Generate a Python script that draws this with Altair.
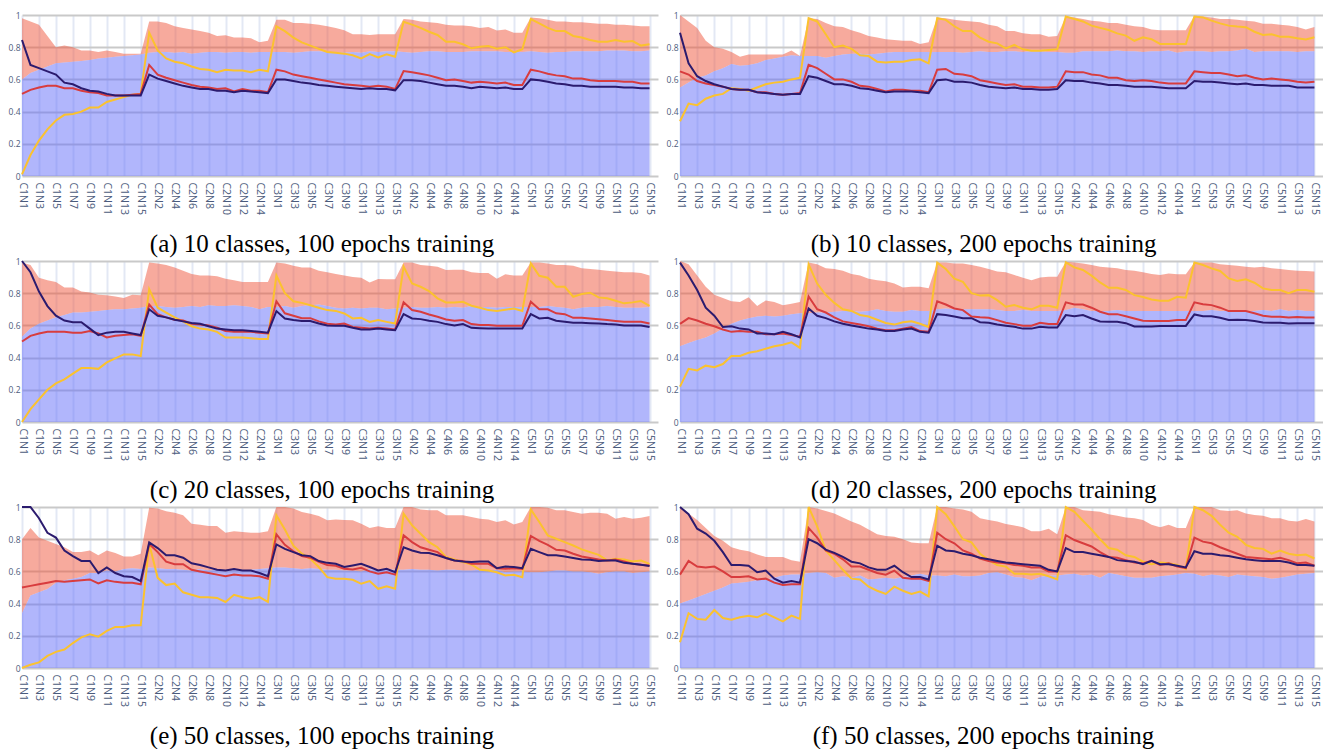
import altair as alt
import pandas as pd

# ---------------- categories ----------------
categories = [f"C{c}N{n}" for c in range(1, 6) for n in range(1, 16)]
tick_labels = categories[::2]
y_ticks = [0, 0.2, 0.4, 0.6, 0.8, 1]

# ---------------- (a) 10 classes, 100 epochs ----------------
a_upper = [0.98,0.96,0.94,0.87,0.80,0.81,0.80,0.78,0.78,0.77,0.78,0.77,0.76,0.76,0.76,
           0.96,0.96,0.95,0.93,0.92,0.91,0.90,0.89,0.87,0.875,0.86,0.86,0.855,0.83,0.84,
           0.97,0.97,0.95,0.95,0.945,0.94,0.93,0.92,0.905,0.88,0.88,0.876,0.88,0.88,0.88,
           0.975,0.97,0.96,0.955,0.95,0.94,0.935,0.935,0.93,0.92,0.925,0.903,0.91,0.89,0.89,
           0.985,0.98,0.97,0.96,0.96,0.955,0.955,0.95,0.945,0.945,0.94,0.94,0.935,0.93,0.93]
a_lower = [0.60,0.64,0.66,0.68,0.70,0.705,0.71,0.715,0.72,0.73,0.735,0.74,0.745,0.75,0.755,
           0.765,0.77,0.77,0.765,0.77,0.76,0.765,0.77,0.77,0.765,0.77,0.77,0.765,0.77,0.77,
           0.77,0.77,0.765,0.77,0.775,0.775,0.77,0.77,0.765,0.77,0.765,0.775,0.77,0.775,0.775,
           0.77,0.765,0.77,0.775,0.775,0.77,0.77,0.77,0.775,0.775,0.775,0.775,0.77,0.77,0.77,
           0.775,0.77,0.765,0.77,0.77,0.775,0.775,0.775,0.775,0.78,0.78,0.78,0.775,0.775,0.78]
a_navy = [0.845,0.69,0.67,0.65,0.63,0.58,0.57,0.545,0.53,0.525,0.51,0.50,0.50,0.50,0.50,
          0.63,0.605,0.59,0.575,0.56,0.55,0.54,0.54,0.53,0.53,0.52,0.53,0.525,0.52,0.515,
          0.60,0.60,0.59,0.58,0.575,0.565,0.56,0.555,0.55,0.545,0.54,0.545,0.54,0.54,0.532,
          0.595,0.595,0.59,0.58,0.57,0.56,0.56,0.555,0.545,0.555,0.55,0.545,0.55,0.54,0.54,
          0.60,0.595,0.585,0.575,0.57,0.56,0.56,0.555,0.555,0.555,0.555,0.55,0.55,0.545,0.545]
a_red = [0.51,0.535,0.55,0.56,0.56,0.545,0.545,0.53,0.52,0.515,0.50,0.50,0.50,0.505,0.51,
         0.69,0.63,0.61,0.595,0.58,0.565,0.555,0.55,0.54,0.545,0.525,0.54,0.53,0.53,0.52,
         0.66,0.65,0.63,0.62,0.61,0.60,0.59,0.58,0.57,0.565,0.56,0.555,0.56,0.555,0.54,
         0.652,0.645,0.635,0.625,0.61,0.595,0.60,0.59,0.58,0.585,0.58,0.575,0.58,0.565,0.565,
         0.66,0.65,0.635,0.625,0.62,0.605,0.605,0.595,0.59,0.59,0.59,0.585,0.585,0.575,0.575]
a_yellow = [0.01,0.13,0.22,0.29,0.345,0.38,0.385,0.40,0.425,0.425,0.46,0.475,0.49,0.505,0.51,
            0.89,0.78,0.73,0.71,0.70,0.68,0.665,0.66,0.645,0.66,0.655,0.655,0.645,0.66,0.65,
            0.93,0.90,0.86,0.83,0.81,0.79,0.77,0.765,0.76,0.75,0.73,0.757,0.737,0.756,0.741,
            0.958,0.94,0.92,0.896,0.876,0.834,0.834,0.818,0.793,0.803,0.807,0.79,0.80,0.768,0.787,
            0.975,0.948,0.92,0.90,0.90,0.87,0.86,0.845,0.834,0.834,0.845,0.834,0.838,0.81,0.818]

# ---------------- (b) 10 classes, 200 epochs ----------------
b_upper = [1.0,0.96,0.92,0.84,0.80,0.79,0.77,0.74,0.755,0.755,0.755,0.755,0.755,0.78,0.745,
           0.98,0.975,0.95,0.93,0.925,0.905,0.89,0.87,0.86,0.85,0.845,0.84,0.84,0.82,0.83,
           0.985,0.98,0.97,0.965,0.96,0.955,0.94,0.93,0.90,0.90,0.886,0.88,0.88,0.865,0.87,
           0.99,0.985,0.975,0.965,0.96,0.95,0.95,0.94,0.93,0.925,0.91,0.905,0.905,0.905,0.905,
           0.995,0.99,0.985,0.975,0.975,0.97,0.965,0.96,0.945,0.945,0.94,0.935,0.925,0.91,0.925]
b_lower = [0.55,0.58,0.61,0.625,0.65,0.67,0.695,0.685,0.69,0.70,0.72,0.73,0.74,0.75,0.745,
           0.745,0.745,0.735,0.745,0.755,0.76,0.76,0.755,0.76,0.765,0.77,0.77,0.77,0.77,0.77,
           0.77,0.77,0.77,0.765,0.77,0.775,0.77,0.77,0.775,0.775,0.77,0.775,0.775,0.77,0.77,
           0.765,0.765,0.775,0.775,0.775,0.775,0.78,0.775,0.775,0.77,0.775,0.775,0.78,0.765,0.775,
           0.775,0.775,0.77,0.775,0.775,0.78,0.79,0.77,0.775,0.775,0.775,0.775,0.77,0.775,0.775]
b_navy = [0.89,0.70,0.62,0.59,0.57,0.555,0.54,0.535,0.535,0.52,0.515,0.51,0.505,0.51,0.51,
          0.62,0.61,0.59,0.57,0.57,0.56,0.545,0.54,0.53,0.52,0.525,0.525,0.525,0.52,0.515,
          0.595,0.60,0.585,0.585,0.58,0.565,0.555,0.55,0.545,0.55,0.54,0.54,0.535,0.535,0.54,
          0.595,0.59,0.59,0.58,0.575,0.565,0.565,0.56,0.555,0.555,0.555,0.55,0.545,0.545,0.545,
          0.59,0.585,0.585,0.58,0.575,0.57,0.575,0.565,0.565,0.56,0.56,0.56,0.55,0.55,0.55]
b_red = [0.65,0.63,0.59,0.575,0.565,0.555,0.54,0.535,0.535,0.52,0.52,0.51,0.505,0.51,0.515,
         0.69,0.67,0.635,0.60,0.60,0.585,0.56,0.555,0.54,0.525,0.535,0.535,0.53,0.53,0.52,
         0.66,0.665,0.635,0.63,0.62,0.595,0.585,0.575,0.565,0.57,0.555,0.555,0.55,0.55,0.555,
         0.65,0.645,0.645,0.63,0.625,0.61,0.61,0.595,0.59,0.595,0.59,0.58,0.575,0.575,0.575,
         0.65,0.645,0.64,0.64,0.63,0.62,0.625,0.61,0.60,0.605,0.60,0.595,0.585,0.58,0.585]
b_yellow = [0.34,0.45,0.44,0.48,0.50,0.51,0.545,0.54,0.53,0.55,0.57,0.58,0.585,0.60,0.61,
            0.98,0.96,0.88,0.80,0.81,0.79,0.75,0.745,0.71,0.705,0.71,0.71,0.72,0.725,0.70,
            0.98,0.97,0.93,0.90,0.90,0.86,0.834,0.824,0.793,0.814,0.787,0.778,0.778,0.782,0.787,
            0.99,0.975,0.96,0.934,0.92,0.907,0.886,0.872,0.84,0.862,0.85,0.82,0.82,0.82,0.82,
            0.99,0.985,0.965,0.948,0.934,0.928,0.924,0.896,0.876,0.88,0.865,0.865,0.855,0.848,0.862]

# ---------------- (c) 20 classes, 100 epochs ----------------
c_upper = [0.99,0.975,0.896,0.88,0.87,0.836,0.836,0.81,0.805,0.79,0.788,0.78,0.77,0.79,0.788,
           0.99,0.985,0.975,0.96,0.94,0.92,0.91,0.91,0.905,0.89,0.88,0.87,0.87,0.87,0.87,
           0.99,0.985,0.97,0.96,0.96,0.94,0.93,0.92,0.91,0.90,0.896,0.867,0.888,0.886,0.886,
           0.99,0.99,0.975,0.97,0.965,0.944,0.945,0.945,0.93,0.925,0.925,0.89,0.917,0.91,0.91,
           0.99,0.99,0.985,0.975,0.975,0.97,0.955,0.95,0.945,0.94,0.935,0.93,0.93,0.925,0.91]
c_lower = [0.53,0.58,0.61,0.63,0.65,0.665,0.68,0.68,0.685,0.69,0.695,0.70,0.70,0.705,0.71,
           0.72,0.72,0.715,0.71,0.715,0.72,0.715,0.725,0.72,0.72,0.725,0.72,0.715,0.70,0.715,
           0.715,0.72,0.71,0.72,0.725,0.73,0.72,0.71,0.705,0.71,0.705,0.71,0.71,0.70,0.705,
           0.71,0.715,0.71,0.71,0.715,0.71,0.715,0.71,0.72,0.715,0.715,0.71,0.715,0.715,0.715,
           0.715,0.715,0.72,0.715,0.71,0.70,0.71,0.715,0.715,0.72,0.715,0.71,0.71,0.71,0.715]
c_navy = [1.0,0.93,0.81,0.72,0.66,0.63,0.62,0.62,0.58,0.54,0.555,0.56,0.56,0.55,0.54,
          0.70,0.66,0.65,0.635,0.625,0.615,0.61,0.595,0.58,0.575,0.57,0.57,0.565,0.56,0.555,
          0.689,0.643,0.633,0.627,0.627,0.612,0.60,0.598,0.598,0.585,0.575,0.575,0.58,0.575,0.57,
          0.67,0.643,0.639,0.629,0.622,0.608,0.60,0.608,0.585,0.582,0.58,0.58,0.58,0.58,0.58,
          0.67,0.643,0.647,0.629,0.622,0.616,0.616,0.614,0.612,0.608,0.606,0.60,0.60,0.60,0.59]
c_red = [0.50,0.535,0.55,0.56,0.56,0.56,0.555,0.555,0.565,0.55,0.525,0.535,0.54,0.545,0.535,
         0.73,0.67,0.65,0.635,0.63,0.61,0.605,0.60,0.585,0.565,0.56,0.56,0.56,0.555,0.55,
         0.75,0.675,0.66,0.645,0.645,0.625,0.61,0.605,0.612,0.59,0.585,0.58,0.585,0.58,0.575,
         0.743,0.695,0.685,0.668,0.654,0.637,0.629,0.633,0.608,0.602,0.602,0.598,0.598,0.598,0.598,
         0.747,0.701,0.70,0.675,0.67,0.647,0.647,0.643,0.638,0.633,0.627,0.622,0.622,0.622,0.612]
c_yellow = [0.0,0.08,0.14,0.20,0.24,0.265,0.30,0.335,0.335,0.33,0.37,0.395,0.42,0.42,0.41,
            0.825,0.71,0.68,0.65,0.625,0.595,0.58,0.575,0.56,0.525,0.525,0.525,0.52,0.515,0.515,
            0.91,0.80,0.75,0.74,0.725,0.71,0.695,0.69,0.674,0.643,0.647,0.622,0.633,0.622,0.612,
            0.965,0.86,0.84,0.813,0.768,0.743,0.743,0.747,0.722,0.71,0.695,0.69,0.697,0.705,0.69,
            0.985,0.908,0.896,0.84,0.84,0.778,0.795,0.803,0.774,0.768,0.753,0.737,0.743,0.751,0.722]

# ---------------- (d) 20 classes, 200 epochs ----------------
d_upper = [1.0,0.98,0.91,0.84,0.79,0.77,0.75,0.745,0.775,0.72,0.755,0.745,0.725,0.735,0.745,
           0.99,0.98,0.955,0.95,0.94,0.92,0.91,0.89,0.88,0.875,0.86,0.835,0.84,0.84,0.83,
           0.99,0.99,0.985,0.985,0.975,0.965,0.95,0.935,0.93,0.913,0.896,0.88,0.898,0.902,0.902,
           0.995,0.99,0.985,0.975,0.965,0.96,0.955,0.944,0.94,0.93,0.92,0.913,0.923,0.917,0.917,
           0.99,0.99,0.99,0.98,0.975,0.97,0.965,0.96,0.965,0.955,0.95,0.944,0.94,0.938,0.935]
d_lower = [0.47,0.49,0.51,0.525,0.55,0.58,0.61,0.63,0.645,0.655,0.66,0.655,0.66,0.67,0.675,
           0.675,0.68,0.68,0.685,0.69,0.69,0.685,0.69,0.70,0.69,0.685,0.685,0.695,0.69,0.69,
           0.70,0.705,0.70,0.70,0.70,0.70,0.70,0.695,0.69,0.69,0.695,0.69,0.69,0.69,0.69,
           0.695,0.71,0.70,0.69,0.69,0.69,0.695,0.69,0.69,0.69,0.69,0.69,0.69,0.69,0.69,
           0.69,0.69,0.695,0.69,0.69,0.69,0.69,0.69,0.695,0.69,0.70,0.69,0.695,0.69,0.69]
d_navy = [0.99,0.91,0.82,0.71,0.66,0.59,0.595,0.58,0.575,0.55,0.55,0.545,0.56,0.545,0.525,
          0.705,0.66,0.645,0.625,0.61,0.60,0.59,0.58,0.575,0.565,0.565,0.575,0.58,0.56,0.555,
          0.67,0.665,0.655,0.645,0.645,0.62,0.616,0.606,0.598,0.591,0.58,0.58,0.591,0.587,0.587,
          0.664,0.657,0.664,0.643,0.624,0.622,0.622,0.614,0.593,0.593,0.593,0.597,0.597,0.597,0.597,
          0.668,0.657,0.657,0.647,0.633,0.635,0.633,0.627,0.618,0.616,0.616,0.612,0.614,0.614,0.614]
d_red = [0.61,0.645,0.63,0.61,0.595,0.575,0.56,0.565,0.56,0.56,0.545,0.545,0.55,0.54,0.53,
         0.78,0.70,0.68,0.65,0.625,0.615,0.605,0.595,0.58,0.57,0.57,0.58,0.59,0.565,0.56,
         0.75,0.73,0.705,0.695,0.655,0.65,0.647,0.633,0.616,0.608,0.598,0.598,0.616,0.608,0.608,
         0.743,0.73,0.73,0.71,0.685,0.67,0.67,0.657,0.643,0.629,0.628,0.628,0.628,0.633,0.633,
         0.743,0.732,0.726,0.71,0.689,0.689,0.689,0.675,0.66,0.654,0.654,0.649,0.652,0.649,0.649]
d_yellow = [0.22,0.33,0.32,0.35,0.34,0.36,0.41,0.41,0.43,0.44,0.455,0.47,0.48,0.495,0.46,
            0.98,0.86,0.79,0.74,0.70,0.69,0.665,0.655,0.635,0.615,0.605,0.62,0.625,0.61,0.59,
            0.99,0.95,0.89,0.87,0.80,0.785,0.788,0.757,0.716,0.726,0.71,0.70,0.722,0.722,0.71,
            0.992,0.96,0.944,0.909,0.867,0.834,0.834,0.82,0.788,0.776,0.761,0.753,0.753,0.778,0.772,
            0.99,0.975,0.954,0.938,0.892,0.876,0.886,0.865,0.83,0.82,0.82,0.80,0.82,0.82,0.809]

# ---------------- (e) 50 classes, 100 epochs ----------------
e_upper = [0.80,0.87,0.81,0.79,0.77,0.75,0.72,0.72,0.73,0.70,0.73,0.714,0.693,0.693,0.71,
           0.996,0.99,0.973,0.965,0.948,0.896,0.89,0.882,0.882,0.84,0.85,0.844,0.84,0.84,0.849,
           1.0,1.0,0.99,0.969,0.958,0.944,0.917,0.923,0.92,0.917,0.896,0.87,0.88,0.87,0.87,
           1.0,1.0,0.985,0.98,0.98,0.948,0.948,0.948,0.938,0.927,0.923,0.907,0.917,0.892,0.907,
           1.0,1.0,0.995,0.98,0.98,0.969,0.958,0.965,0.965,0.958,0.927,0.938,0.927,0.934,0.944]
e_lower = [0.34,0.45,0.47,0.49,0.53,0.545,0.555,0.565,0.59,0.59,0.605,0.60,0.615,0.62,0.615,
           0.625,0.62,0.615,0.615,0.61,0.605,0.615,0.605,0.61,0.60,0.61,0.605,0.61,0.615,0.62,
           0.625,0.625,0.62,0.615,0.62,0.615,0.61,0.61,0.606,0.605,0.60,0.615,0.605,0.61,0.61,
           0.61,0.615,0.61,0.61,0.605,0.61,0.61,0.605,0.605,0.61,0.605,0.61,0.595,0.60,0.60,
           0.595,0.595,0.60,0.605,0.605,0.60,0.60,0.595,0.585,0.595,0.60,0.60,0.59,0.595,0.60]
e_navy = [1.0,1.0,0.93,0.84,0.81,0.73,0.695,0.665,0.665,0.59,0.625,0.59,0.57,0.565,0.54,
          0.78,0.745,0.70,0.70,0.685,0.65,0.64,0.625,0.61,0.605,0.615,0.605,0.605,0.59,0.57,
          0.768,0.74,0.72,0.70,0.695,0.664,0.653,0.647,0.627,0.637,0.647,0.627,0.606,0.616,0.595,
          0.75,0.73,0.716,0.714,0.70,0.683,0.668,0.662,0.658,0.662,0.662,0.62,0.63,0.627,0.62,
          0.74,0.72,0.70,0.70,0.693,0.683,0.674,0.672,0.664,0.668,0.668,0.653,0.647,0.641,0.633]
e_red = [0.50,0.51,0.52,0.53,0.54,0.535,0.54,0.545,0.55,0.525,0.545,0.535,0.53,0.53,0.52,
         0.77,0.72,0.66,0.645,0.645,0.61,0.60,0.59,0.58,0.57,0.58,0.575,0.575,0.57,0.555,
         0.83,0.765,0.725,0.695,0.685,0.66,0.64,0.635,0.616,0.612,0.622,0.60,0.585,0.595,0.58,
         0.824,0.782,0.75,0.734,0.72,0.683,0.668,0.664,0.647,0.647,0.647,0.62,0.616,0.62,0.616,
         0.82,0.79,0.765,0.734,0.73,0.71,0.693,0.683,0.674,0.668,0.674,0.662,0.647,0.641,0.637]
e_yellow = [0.0,0.02,0.035,0.075,0.10,0.115,0.155,0.19,0.21,0.195,0.23,0.255,0.255,0.265,0.265,
            0.77,0.56,0.515,0.525,0.47,0.455,0.44,0.44,0.435,0.41,0.455,0.44,0.43,0.44,0.41,
            0.948,0.86,0.76,0.71,0.678,0.627,0.564,0.554,0.554,0.548,0.523,0.54,0.492,0.508,0.492,
            0.958,0.886,0.834,0.782,0.75,0.689,0.674,0.658,0.643,0.61,0.606,0.595,0.575,0.579,0.564,
            0.985,0.907,0.824,0.803,0.782,0.761,0.737,0.72,0.703,0.668,0.678,0.674,0.662,0.668,0.647]

# ---------------- (f) 50 classes, 200 epochs ----------------
f_upper = [1.0,0.96,0.92,0.87,0.82,0.79,0.75,0.735,0.725,0.705,0.69,0.69,0.69,0.67,0.66,
           1.0,0.99,0.975,0.96,0.935,0.91,0.89,0.86,0.83,0.82,0.815,0.80,0.78,0.775,0.775,
           1.0,1.0,0.99,0.985,0.97,0.93,0.92,0.91,0.895,0.885,0.875,0.85,0.85,0.865,0.83,
           1.0,1.0,0.98,0.975,0.97,0.955,0.945,0.935,0.93,0.92,0.89,0.875,0.89,0.87,0.87,
           1.0,1.0,1.0,0.98,0.975,0.98,0.96,0.95,0.945,0.93,0.93,0.915,0.91,0.925,0.91]
f_lower = [0.40,0.42,0.44,0.46,0.48,0.50,0.525,0.53,0.535,0.545,0.55,0.56,0.575,0.58,0.58,
           0.59,0.595,0.59,0.56,0.57,0.56,0.575,0.55,0.555,0.56,0.555,0.565,0.575,0.585,0.575,
           0.575,0.57,0.58,0.57,0.57,0.575,0.59,0.595,0.58,0.565,0.56,0.545,0.565,0.575,0.575,
           0.58,0.585,0.575,0.58,0.56,0.59,0.58,0.57,0.56,0.56,0.56,0.57,0.575,0.58,0.59,
           0.585,0.57,0.58,0.575,0.565,0.58,0.575,0.57,0.565,0.555,0.56,0.57,0.58,0.585,0.59]
f_navy = [1.0,0.955,0.865,0.835,0.79,0.72,0.64,0.64,0.635,0.595,0.605,0.555,0.53,0.54,0.53,
          0.80,0.775,0.735,0.715,0.69,0.66,0.65,0.625,0.61,0.61,0.635,0.595,0.565,0.565,0.55,
          0.76,0.73,0.725,0.71,0.70,0.685,0.675,0.665,0.655,0.65,0.645,0.64,0.635,0.61,0.60,
          0.745,0.72,0.72,0.71,0.70,0.69,0.67,0.665,0.66,0.645,0.665,0.645,0.645,0.635,0.625,
          0.725,0.71,0.71,0.70,0.695,0.685,0.675,0.67,0.665,0.665,0.665,0.655,0.64,0.64,0.635]
f_red = [0.58,0.665,0.63,0.625,0.63,0.60,0.565,0.565,0.57,0.55,0.555,0.53,0.515,0.52,0.52,
         0.87,0.81,0.73,0.71,0.675,0.63,0.63,0.61,0.59,0.58,0.605,0.56,0.555,0.555,0.54,
         0.84,0.80,0.775,0.73,0.71,0.68,0.665,0.655,0.65,0.64,0.635,0.625,0.625,0.60,0.60,
         0.825,0.795,0.775,0.755,0.72,0.69,0.685,0.67,0.655,0.65,0.665,0.64,0.65,0.63,0.62,
         0.81,0.785,0.775,0.75,0.73,0.71,0.69,0.685,0.68,0.675,0.685,0.67,0.65,0.655,0.635]
f_yellow = [0.16,0.34,0.305,0.30,0.36,0.31,0.30,0.315,0.325,0.315,0.34,0.315,0.29,0.325,0.305,
            1.0,0.88,0.73,0.67,0.61,0.555,0.55,0.505,0.48,0.46,0.505,0.48,0.46,0.475,0.445,
            1.0,0.955,0.88,0.80,0.78,0.71,0.67,0.64,0.63,0.585,0.585,0.58,0.585,0.57,0.55,
            1.0,0.97,0.915,0.86,0.80,0.745,0.735,0.70,0.69,0.66,0.645,0.655,0.65,0.64,0.615,
            1.0,0.98,0.945,0.89,0.84,0.815,0.765,0.745,0.74,0.71,0.73,0.71,0.70,0.705,0.68]

captions = ["(a) 10 classes, 100 epochs training", "(b) 10 classes, 200 epochs training",
            "(c) 20 classes, 100 epochs training", "(d) 20 classes, 200 epochs training",
            "(e) 50 classes, 100 epochs training", "(f) 50 classes, 200 epochs training"]

LW, RW, PH = 636, 643, 161
BLUE_FILL, RED_FILL = "#636EFA", "#EF553B"
NAVY, RED, YELLOW = "#2B1B6E", "#D83C3E", "#FBC22E"


def panel(upper, lower, navy, red, yellow, caption, width, dx, offset):
    df = pd.DataFrame({"cat": categories, "upper": upper, "lower": lower,
                       "navy": navy, "red": red, "yellow": yellow})
    xenc = alt.X("cat:O", sort=categories,
                 scale=alt.Scale(type="point", padding=0.5, align=0),
                 axis=alt.Axis(values=tick_labels, title=None))
    ysc = alt.Scale(domain=[0, 1], nice=False, zero=True)
    yax = alt.Axis(values=y_ticks, format=".1~f", title=None)
    base = alt.Chart(df).encode(x=xenc)
    band = base.mark_area(color=RED_FILL, opacity=0.5).encode(
        y=alt.Y("lower:Q", scale=ysc, axis=yax), y2="upper:Q")
    blue = base.mark_area(color=BLUE_FILL, opacity=0.5).encode(
        y=alt.Y("lower:Q", scale=ysc, axis=yax))
    lines = []
    for col, c in (("yellow", YELLOW), ("red", RED), ("navy", NAVY)):
        lines.append(base.mark_line(color=c, strokeWidth=2).encode(
            y=alt.Y(f"{col}:Q", scale=ysc, axis=yax)))
    return alt.layer(band, blue, *lines).properties(
        width=width, height=PH,
        title=alt.TitleParams(caption, orient="bottom", anchor="middle", frame="group",
                              font="Liberation Serif", fontSize=25, fontWeight="normal",
                              color="black", dx=dx, offset=offset))


pa = panel(a_upper, a_lower, a_navy, a_red, a_yellow, captions[0], LW, -18, 17)
pb = panel(b_upper, b_lower, b_navy, b_red, b_yellow, captions[1], RW, -18, 17)
pc = panel(c_upper, c_lower, c_navy, c_red, c_yellow, captions[2], LW, -18, 17)
pd_ = panel(d_upper, d_lower, d_navy, d_red, d_yellow, captions[3], RW, -18, 17)
pe = panel(e_upper, e_lower, e_navy, e_red, e_yellow, captions[4], LW, -18, 17)
pf = panel(f_upper, f_lower, f_navy, f_red, f_yellow, captions[5], RW, -18, 17)

chart = alt.vconcat(
    alt.hconcat(pa, pb, spacing=8),
    alt.hconcat(pc, pd_, spacing=8),
    alt.hconcat(pe, pf, spacing=8),
    spacing=0,
).properties(
    padding={"left": 0, "top": 3, "right": 0, "bottom": 0}
).configure_view(stroke=None).configure_axisX(
    labelAngle=90, labelFontSize=10.5, labelFont="Open Sans", labelColor="#4b5b7c",
    labelPadding=6, ticks=False, domain=False, grid=True, gridColor="#e3e8f4",
    gridWidth=2, labelOverlap=False
).configure_axisY(
    labelFontSize=8.5, labelFont="Open Sans", labelColor="#4b5b7c", labelPadding=2,
    ticks=False, domain=False, grid=True, gridColor="#c9c9c9", gridWidth=2
)

chart.save("out.html", embed_options={"renderer": "svg", "actions": False})
